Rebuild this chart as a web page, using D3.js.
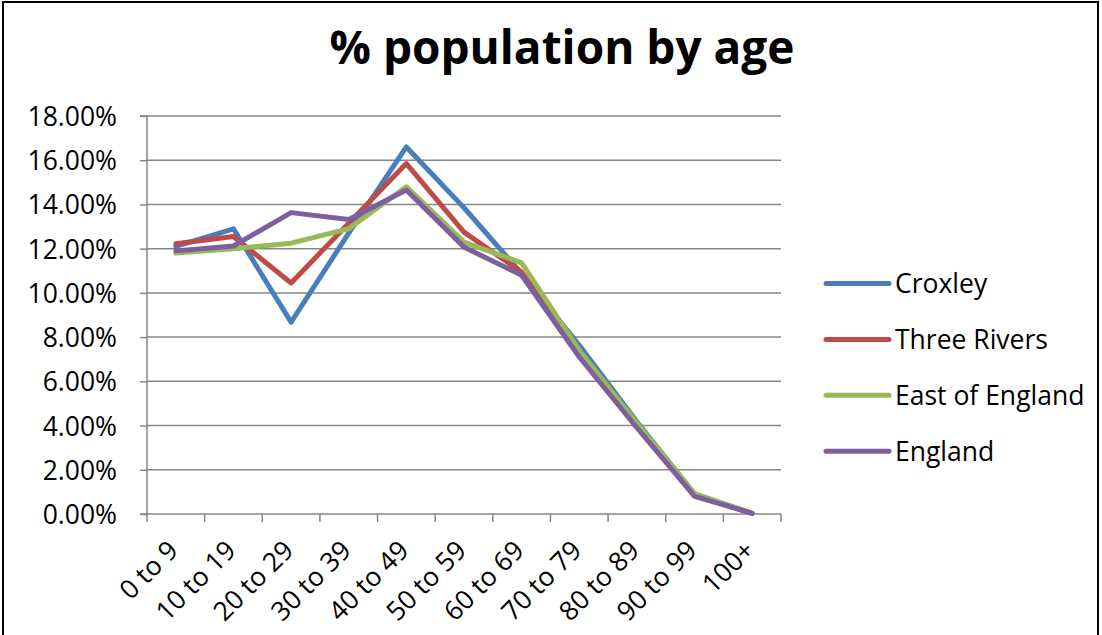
<!DOCTYPE html>
<html><head><meta charset="utf-8">
<script src="https://cdn.jsdelivr.net/npm/d3@7"></script>
<style>body{margin:0;background:#fff}svg{display:block}</style>
</head><body>
<svg id="c" width="1102" height="635"></svg>
<script>
const categories = ["0 to 9","10 to 19","20 to 29","30 to 39","40 to 49","50 to 59","60 to 69","70 to 79","80 to 89","90 to 99","100+"];
const croxley      = [12.10, 12.90, 8.68, 12.70, 16.60, 13.85, 10.87, 7.63, 4.17, 0.90, 0.03];
const threeRivers  = [12.22, 12.55, 10.45, 13.15, 15.85, 12.75, 10.94, 7.25, 4.00, 0.88, 0.03];
const eastEngland  = [11.80, 12.00, 12.25, 12.90, 14.80, 12.30, 11.36, 7.40, 4.10, 0.92, 0.03];
const england      = [11.90, 12.12, 13.63, 13.32, 14.65, 12.07, 10.80, 7.10, 3.90, 0.80, 0.03];
const seriesNames  = ["Croxley","Three Rivers","East of England","England"];
const seriesColors = ["#4A7EBB","#BE4B48","#98B954","#7D5FA0"];
const yTicks = [0,2,4,6,8,10,12,14,16,18];
const title = "% population by age";

const seriesData = [croxley, threeRivers, eastEngland, england];
const svg = d3.select("#c");
const font = "'Open Sans', Lato, sans-serif";
const fs = 26.5;

// border
svg.append("rect").attr("x",3).attr("y",2).attr("width",1095).attr("height",640)
  .attr("fill","none").attr("stroke","#000").attr("stroke-width",2);

const pL=147, pR=781, pT=116, pB=514;
const x = d3.scaleBand().domain(categories).range([pL,pR]).padding(0);
const y = d3.scaleLinear().domain([0,18]).range([pB,pT]);

// gridlines
svg.append("g").selectAll("line").data(yTicks.filter(d=>d>0)).join("line")
  .attr("x1",pL).attr("x2",pR).attr("y1",d=>y(d)).attr("y2",d=>y(d))
  .attr("stroke","#868686").attr("stroke-width",1.5);

// y axis
const ya = svg.append("g").attr("transform",`translate(${pL},0)`)
  .call(d3.axisLeft(y).tickValues(yTicks).tickSize(7).tickPadding(23).tickFormat(d=>d.toFixed(2)+"%"));
ya.select(".domain").attr("stroke","#868686").attr("stroke-width",1.5).attr("d",`M-7,${pT}H0V${pB}H-7`);
ya.selectAll(".tick line").attr("stroke","#868686").attr("stroke-width",1.5);
ya.selectAll(".tick text").attr("font-family",font).attr("font-size",fs).attr("fill","#000").attr("dy","0.36em");

// x axis
const xa = svg.append("g").attr("transform",`translate(0,${pB})`);
xa.append("line").attr("x1",pL).attr("x2",pR).attr("y1",0).attr("y2",0)
  .attr("stroke","#868686").attr("stroke-width",1.5);
const bounds = categories.map(c=>x(c)).concat([pR]);
xa.selectAll("line.t").data(bounds).join("line").attr("class","t")
  .attr("x1",d=>d).attr("x2",d=>d).attr("y1",0).attr("y2",8)
  .attr("stroke","#868686").attr("stroke-width",1.5);
xa.selectAll("text").data(categories).join("text")
  .attr("transform",d=>`translate(${x(d)+x.bandwidth()/2+4},${38}) rotate(-45)`)
  .attr("text-anchor","end").attr("font-family",font).attr("font-size",fs)
  .text(d=>d);

// lines
const line = d3.line().x((d,i)=>x(categories[i])+x.bandwidth()/2).y(d=>y(d));
svg.append("g").selectAll("path").data(seriesData).join("path")
  .attr("d",line).attr("fill","none")
  .attr("stroke",(d,i)=>seriesColors[i]).attr("stroke-width",5)
  .attr("stroke-linejoin","round").attr("stroke-linecap","round");

// title
svg.append("text").attr("x",562).attr("y",64).attr("text-anchor","middle")
  .attr("font-family",font).attr("font-weight","bold").attr("font-size",46).text(title);

// legend
const lg = svg.append("g").selectAll("g").data(seriesNames).join("g")
  .attr("transform",(d,i)=>`translate(826,${283.5+i*55.9})`);
lg.append("line").attr("x1",0).attr("x2",63).attr("stroke",(d,i)=>seriesColors[i])
  .attr("stroke-width",5).attr("stroke-linecap","round");
lg.append("text").attr("x",69).attr("dy","0.36em").attr("font-family",font)
  .attr("font-size",fs).text(d=>d);
</script>
</body></html>
